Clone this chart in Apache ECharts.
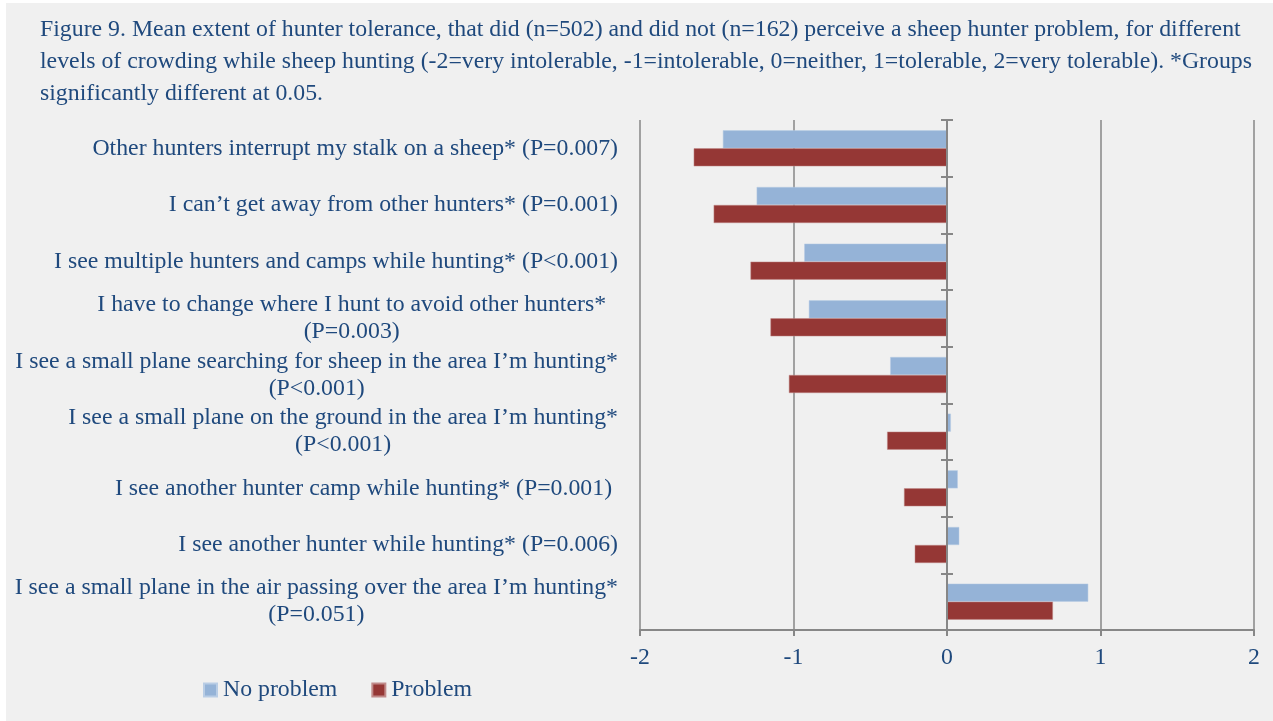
<!DOCTYPE html>
<html>
<head>
<meta charset="utf-8">
<script src="https://cdn.jsdelivr.net/npm/echarts@6/dist/echarts.min.js"></script>
<style>
  html, body { margin: 0; padding: 0; background: #ffffff; }
  #chart { position: absolute; left: 6px; top: 3px; width: 1267px; height: 718px; }
</style>
</head>
<body>
<div id="chart"></div>
<script>
// Category labels, top to bottom. '\n' splits the two-line ones.
const categories = [
  'Other hunters interrupt my stalk on a sheep* (P=0.007)',
  'I can\u2019t get away from other hunters* (P=0.001)',
  'I see multiple hunters and camps while hunting* (P<0.001)',
  'I have to change where I hunt to avoid other hunters*  \n(P=0.003)',
  'I see a small plane searching for sheep in the area I\u2019m hunting*\n(P<0.001)',
  'I see a small plane on the ground in the area I\u2019m hunting*\n(P<0.001)',
  'I see another hunter camp while hunting* (P=0.001) ',
  'I see another hunter while hunting* (P=0.006)',
  'I see a small plane in the air passing over the area I\u2019m hunting*\n(P=0.051)',
];
const noProblem = [-1.46, -1.24, -0.93, -0.90, -0.37, 0.025, 0.07, 0.08, 0.92];
const problem = [-1.65, -1.52, -1.28, -1.15, -1.03, -0.39, -0.28, -0.21, 0.69];
const seriesNames = ['No problem', 'Problem'];

const TEXT = '#1f497d';
const GRID = '#878787';
const FONT = 'Liberation Serif';
const SIZE = 23.8;

// Word centres the second line under the first; rich text needs a box as wide as line one.
const ctx = document.createElement('canvas').getContext('2d');
ctx.font = SIZE + 'px "' + FONT + '"';
const rich = { a: { fontSize: SIZE, lineHeight: 27, color: TEXT, fontFamily: FONT } };
categories.forEach((c, i) => {
  const parts = c.split('\n');
  if (parts.length < 2) return;
  const full = ctx.measureText(parts[0]).width;
  const trimmed = ctx.measureText(parts[0].trimEnd()).width;
  rich['b' + i] = {
    fontSize: SIZE, lineHeight: 27, color: TEXT, fontFamily: FONT,
    width: trimmed, align: 'center', padding: [0, full - trimmed, 0, 0],
  };
});

const chart = echarts.init(document.getElementById('chart'), null, { renderer: 'canvas' });

const catAxisBase = {
  type: 'category',
  data: categories,
  inverse: true,
  axisLabel: { show: false },
  splitLine: { show: false },
};

chart.setOption({
  backgroundColor: '#f0f0f0',
  animation: false,
  textStyle: { fontFamily: FONT },
  title: {
    text: 'Figure 9. Mean extent of hunter tolerance, that did (n=502) and did not (n=162) perceive a sheep hunter problem, for different\n' +
      'levels of crowding while sheep hunting (-2=very intolerable, -1=intolerable, 0=neither, 1=tolerable, 2=very tolerable). *Groups\n' +
      'significantly different at 0.05.',
    left: 34,
    top: 11,
    padding: 0,
    textStyle: { fontFamily: FONT, fontSize: SIZE, fontWeight: 'normal', color: TEXT, lineHeight: 32 },
  },
  legend: {
    data: seriesNames,
    left: 197,
    top: 675,
    padding: 0,
    icon: 'rect',
    itemWidth: 13,
    itemHeight: 13,
    itemGap: 34,
    textStyle: { fontFamily: FONT, fontSize: SIZE, color: TEXT, padding: [0, 0, 0, 1] },
  },
  grid: { left: 634, right: 19, top: 117, bottom: 91, containLabel: false },
  xAxis: {
    type: 'value',
    min: -2,
    max: 2,
    interval: 1,
    axisLine: { show: true, onZero: false, lineStyle: { color: GRID, width: 2 } },
    axisTick: { show: true, length: 6, lineStyle: { color: GRID, width: 2 } },
    axisLabel: { fontFamily: FONT, fontSize: SIZE, color: TEXT, margin: 16 },
    splitLine: { show: true, lineStyle: { color: GRID, width: 1.5 } },
  },
  yAxis: [
    Object.assign({}, catAxisBase, {
      axisLine: { show: false, onZero: false },
      axisTick: { show: false },
      axisLabel: {
        show: true,
        margin: 22,
        fontFamily: FONT,
        fontSize: SIZE,
        color: TEXT,
        lineHeight: 27,
        rich: rich,
        formatter: (value, i) => {
          const parts = value.split('\n');
          if (parts.length < 2) return '{a|' + value + '}';
          return '{a|' + parts[0] + '}\n{b' + i + '|' + parts[1] + '}';
        },
      },
    }),
    // zero line with ticks crossing it: one set outward, one set inward
    Object.assign({}, catAxisBase, {
      z: 5,
      axisLine: { show: true, onZero: true, onZeroAxisIndex: 0, lineStyle: { color: GRID, width: 2 } },
      axisTick: { show: true, length: 6, lineStyle: { color: GRID, width: 2 } },
    }),
    Object.assign({}, catAxisBase, {
      z: 5,
      axisLine: { show: false, onZero: true, onZeroAxisIndex: 0 },
      axisTick: { show: true, inside: true, length: 6, lineStyle: { color: GRID, width: 2 } },
    }),
  ],
  series: [
    {
      name: seriesNames[0],
      type: 'bar',
      data: noProblem,
      barWidth: 18,
      barGap: '0%',
      itemStyle: { color: '#95b3d7', borderColor: '#b9cde5', borderWidth: 0.5 },
    },
    {
      name: seriesNames[1],
      type: 'bar',
      data: problem,
      barWidth: 18,
      barGap: '0%',
      itemStyle: { color: '#953735', borderColor: '#c08a89', borderWidth: 0.5 },
    },
  ],
});
</script>
</body>
</html>
